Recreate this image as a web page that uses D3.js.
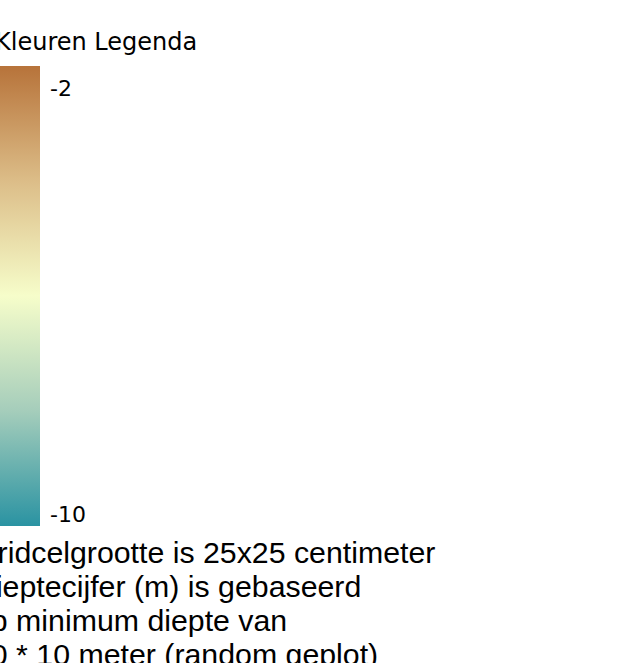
<!DOCTYPE html>
<html>
<head>
<meta charset="utf-8">
<script src="https://cdn.jsdelivr.net/npm/d3@7"></script>
<style>
html,body{margin:0;padding:0;background:#fff;overflow:hidden;}
svg{display:block;}
</style>
</head>
<body>
<svg id="chart" width="631" height="663"></svg>
<script>
// Data
const legendTitle = "Kleuren Legenda";
const depthDomain = [-2, -10];            // top -> bottom of colour bar
const tickValues = [-2, -10];
const tickLabels = ["-2", "-10"];
const gradientStops = [0, 0.25, 0.5, 0.75, 1];
const gradientColors = ["#b7733a", "#dcbd88", "#f6fdca", "#a5cdbb", "#2a93a2"];
const noteLines = [
  "Gridcelgrootte is 25x25 centimeter",
  "Dieptecijfer (m) is gebaseerd",
  "op minimum diepte van",
  "10 * 10 meter (random geplot)"
];

const svg = d3.select("#chart");
const barX = -2, barW = 42;
const y = d3.scaleLinear().domain(depthDomain).range([66, 526]);

const defs = svg.append("defs");
const grad = defs.append("linearGradient")
  .attr("id", "depthGrad").attr("x1", 0).attr("y1", 0).attr("x2", 0).attr("y2", 1);
grad.selectAll("stop").data(gradientStops).join("stop")
  .attr("offset", d => d)
  .attr("stop-color", (d, i) => gradientColors[i]);

svg.append("text")
  .attr("x", -5).attr("y", 50)
  .attr("font-family", "DejaVu Sans, Verdana, sans-serif")
  .attr("font-size", 24)
  .attr("fill", "#000")
  .text(legendTitle);

svg.append("rect")
  .attr("x", barX).attr("y", y(depthDomain[0]))
  .attr("width", barW).attr("height", y(depthDomain[1]) - y(depthDomain[0]))
  .attr("fill", "url(#depthGrad)");

svg.selectAll("text.tick").data(tickValues).join("text")
  .attr("class", "tick")
  .attr("x", 50)
  .attr("y", (d, i) => y(d) + (i === 0 ? 30 : -4))
  .attr("font-family", "DejaVu Sans, Verdana, sans-serif")
  .attr("font-size", 22)
  .attr("fill", "#000")
  .text((d, i) => tickLabels[i]);

svg.selectAll("text.note").data(noteLines).join("text")
  .attr("class", "note")
  .attr("x", -26)
  .attr("y", (d, i) => 563 + i * 34)
  .attr("font-family", "Liberation Sans, Arial, sans-serif")
  .attr("font-size", 30.3)
  .attr("fill", "#000")
  .text(d => d);
</script>
</body>
</html>
